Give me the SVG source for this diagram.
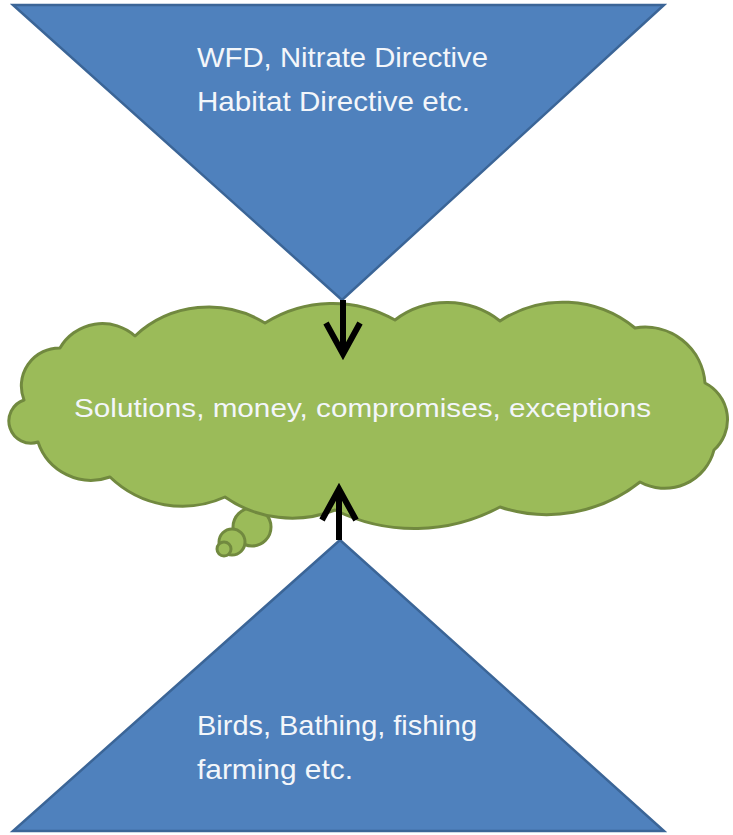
<svg xmlns="http://www.w3.org/2000/svg" width="733" height="835" viewBox="0 0 733 835">
  <style>
    .tri { fill: #4F81BD; stroke: #3B6597; stroke-width: 2.5; stroke-linejoin: miter; }
    .cloud { fill: #9BBB59; stroke: #71893F; stroke-width: 3; stroke-linejoin: round; }
    .lbl { font-family: "Liberation Sans", Arial, sans-serif; fill: #F3F6FA; }
    .arrow { stroke: #000; stroke-width: 6; fill: none; stroke-linecap: butt; stroke-linejoin: miter; }
  </style>
  <rect width="733" height="835" fill="#FFFFFF"/>

  <g id="top-triangle">
    <polygon class="tri" points="13,5 664,5 342,300"/>
    <text class="lbl" x="197" y="67" font-size="28" textLength="291" lengthAdjust="spacingAndGlyphs">WFD, Nitrate Directive</text>
    <text class="lbl" x="197" y="111" font-size="28" textLength="273" lengthAdjust="spacingAndGlyphs">Habitat Directive etc.</text>
  </g>

  <g id="bottom-triangle">
    <polygon class="tri" points="340,540 664,831 13,831"/>
    <text class="lbl" x="197" y="735" font-size="28" textLength="280" lengthAdjust="spacingAndGlyphs">Birds, Bathing, fishing</text>
    <text class="lbl" x="197" y="779" font-size="28" textLength="156" lengthAdjust="spacingAndGlyphs">farming etc.</text>
  </g>

  <g id="cloud">
    <circle class="cloud" cx="252" cy="527" r="19"/>
    <circle class="cloud" cx="232" cy="542" r="13"/>
    <circle class="cloud" cx="224" cy="549" r="7"/>
    <path class="cloud" d="M24,400
      A38,38 0 0 1 60,348
      A49,49 0 0 1 135,336
      A108,108 0 0 1 265,323
      A126,126 0 0 1 395,320
      A86,86 0 0 1 500,321
      A114,114 0 0 1 635,328
      A60,60 0 0 1 705,383
      A41,41 0 0 1 714,450
      A51,51 0 0 1 640,482
      A149,149 0 0 1 500,507
      A180,180 0 0 1 335,510
      A117,117 0 0 1 225,497
      A104,104 0 0 1 110,477
      A56,56 0 0 1 38,442
      A22,22 0 0 1 24,400 Z"/>
    <text class="lbl" x="74" y="417" font-size="26" textLength="577" lengthAdjust="spacingAndGlyphs">Solutions, money, compromises, exceptions</text>
  </g>

  <g id="connectors">
    <line class="arrow" x1="343" y1="300" x2="343" y2="354"/>
    <polyline class="arrow" points="326,323 343,354 360,323"/>
    <line class="arrow" x1="339" y1="540" x2="339" y2="489"/>
    <polyline class="arrow" points="322,520 339,489 356,520"/>
  </g>
</svg>
